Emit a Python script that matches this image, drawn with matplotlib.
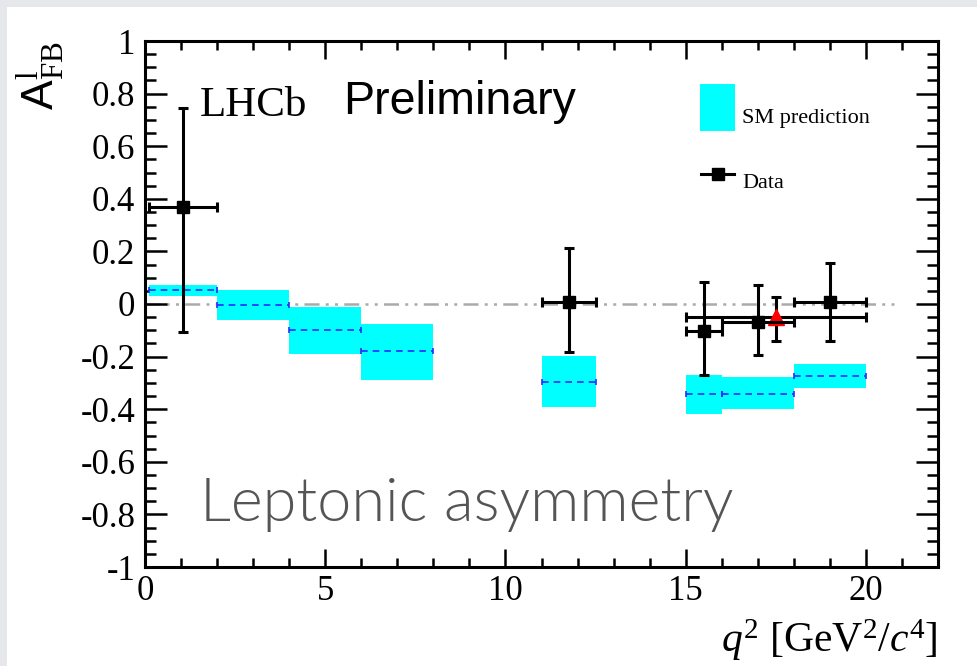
import matplotlib
matplotlib.use("Agg")
import matplotlib.pyplot as plt
from matplotlib.patches import Rectangle
from matplotlib.ticker import MultipleLocator, FuncFormatter
import numpy as np

# SM prediction bins
sm_lo = [0.1, 2.0, 4.0, 6.0, 11.0, 15.0, 16.0, 18.0]
sm_hi = [2.0, 4.0, 6.0, 8.0, 12.5, 16.0, 18.0, 20.0]
sm_low = [0.032, -0.060, -0.189, -0.288, -0.390, -0.417, -0.400, -0.318]
sm_high = [0.072, 0.053, -0.011, -0.076, -0.198, -0.270, -0.278, -0.228]
sm_central = [0.053, -0.004, -0.100, -0.180, -0.295, -0.343, -0.341, -0.274]

# Data points (black squares)
data_x = [1.05, 11.75, 15.5, 17.0, 19.0]
data_xlo = [0.1, 11.0, 15.0, 16.0, 18.0]
data_xhi = [2.0, 12.5, 16.0, 18.0, 20.0]
data_y = [0.370, 0.009, -0.103, -0.067, 0.006]
data_ytop = [0.744, 0.212, 0.084, 0.073, 0.157]
data_ybot = [-0.105, -0.184, -0.270, -0.194, -0.140]

# wide 15-20 bin (red triangle)
wide_x = [17.5]
wide_xlo = [15.0]
wide_xhi = [20.0]
wide_y = [-0.048]
wide_ytop = [0.027]
wide_ybot = [-0.140]

plt.rcParams["mathtext.fontset"] = "custom"
plt.rcParams["mathtext.rm"] = "Liberation Serif"
plt.rcParams["mathtext.it"] = "Liberation Serif:italic"
plt.rcParams["mathtext.sf"] = "Liberation Sans"
plt.rcParams["font.family"] = ["Liberation Serif", "DejaVu Serif"]
plt.rcParams["axes.unicode_minus"] = False

fig = plt.figure(figsize=(9.77, 6.66), dpi=100)
fig.patch.set_facecolor("white")
# slide border strips
fig.patches.append(Rectangle((0, 0), 7 / 977, 1, transform=fig.transFigure,
                             facecolor="#e6e7eb", edgecolor="none", zorder=-10))
fig.patches.append(Rectangle((0, 1 - 7 / 666), 1, 7 / 666, transform=fig.transFigure,
                             facecolor="#e6e7eb", edgecolor="none", zorder=-10))

ax = fig.add_axes([145 / 977, 99 / 666, 793 / 977, 526 / 666])
ax.set_xlim(0, 22)
ax.set_ylim(-1, 1)

# zero line
ax.plot([0, 20.9], [0, 0], color="#aaaaaa", lw=1.8, dashes=(6, 2.5, 1.2, 2.5, 1.2, 2.5), zorder=1)

# SM boxes
for lo, hi, yl, yh, yc in zip(sm_lo, sm_hi, sm_low, sm_high, sm_central):
    ax.add_patch(Rectangle((lo, yl), hi - lo, yh - yl, facecolor="#00ffff",
                           edgecolor="none", zorder=2))
ax.hlines(sm_central, sm_lo, sm_hi, colors="#2a2aff", lw=1.2,
          linestyles=(0, (4, 3)), zorder=3)
ax.plot(sm_lo, sm_central, ls="none", marker="|", ms=5, mew=1.2, color="#2a2aff", zorder=3)
ax.plot(sm_hi, sm_central, ls="none", marker="|", ms=5, mew=1.2, color="#2a2aff", zorder=3)

def err(xc, xl, xh, yc, yt, yb):
    xc, xl, xh = np.array(xc), np.array(xl), np.array(xh)
    yc, yt, yb = np.array(yc), np.array(yt), np.array(yb)
    return [xc - xl, xh - xc], [yc - yb, yt - yc]

xe, ye = err(wide_x, wide_xlo, wide_xhi, wide_y, wide_ytop, wide_ybot)
ax.errorbar(wide_x, wide_y, xerr=xe, yerr=ye, fmt="^", color="#ff0000", ms=11,
            ecolor="black", elinewidth=2.2, capsize=3.5, capthick=2.2, zorder=4)
xe, ye = err(data_x, data_xlo, data_xhi, data_y, data_ytop, data_ybot)
ax.errorbar(data_x, data_y, xerr=xe, yerr=ye, fmt="s", color="black", ms=9,
            ecolor="black", elinewidth=2.2, capsize=3.5, capthick=2.2, zorder=5)

# axes style (ROOT-like)
for s in ax.spines.values():
    s.set_linewidth(2.2)
ax.xaxis.set_major_locator(MultipleLocator(5))
ax.xaxis.set_minor_locator(MultipleLocator(1))
ax.yaxis.set_major_locator(MultipleLocator(0.2))
ax.yaxis.set_minor_locator(MultipleLocator(0.05))
ax.yaxis.set_major_formatter(FuncFormatter(lambda v, p: "%g" % round(v, 2)))
ax.tick_params(axis="both", which="both", direction="in", top=True, right=True,
               labelsize=25, width=1.8)
ax.tick_params(axis="y", which="major", length=16, pad=7)
ax.tick_params(axis="y", which="minor", length=8)
ax.tick_params(axis="x", which="major", length=13, pad=6)
ax.tick_params(axis="x", which="minor", length=6.5)

ax.set_xlabel(r"$q^{2}$ [GeV$^{2}$/$c^{4}$]", fontsize=30, loc="right")
ax.xaxis.set_label_coords(1.0, -0.1616)
ax.xaxis.label.set_verticalalignment("baseline")
ax.set_ylabel(r"$\mathsf{A}^{\mathrm{l}}_{\mathrm{FB}}$", fontsize=32, loc="top")
ax.yaxis.set_label_coords(-0.098, 1.0)

# texts
ax.text(0.069, 0.858, "LHCb", transform=ax.transAxes, fontsize=31,
        va="baseline", ha="left", family="Liberation Serif")
ax.text(0.25, 0.862, "Preliminary", transform=ax.transAxes, fontsize=33.5,
        va="baseline", ha="left", family="Liberation Sans")
ax.text(0.069, 0.087, "Leptonic asymmetry", transform=ax.transAxes, fontsize=44,
        va="baseline", ha="left", family=["Lato", "Open Sans", "DejaVu Sans"],
        weight=300, color="#555555")

# legend
ax.add_patch(Rectangle((0.700, 0.829), 0.0441, 0.0894, transform=ax.transAxes,
                       facecolor="#00ffff", edgecolor="none"))
ax.text(0.753, 0.844, "SM prediction", transform=ax.transAxes, fontsize=16,
        va="baseline", ha="left")
ax.plot([0.701, 0.743], [0.747, 0.747], transform=ax.transAxes, color="black", lw=2.2)
ax.plot([0.7226], [0.747], transform=ax.transAxes, marker="s", ms=9, color="black")
ax.text(0.753, 0.7205, "Data", transform=ax.transAxes, fontsize=16,
        va="baseline", ha="left")

fig.savefig("out.png", dpi=100)
